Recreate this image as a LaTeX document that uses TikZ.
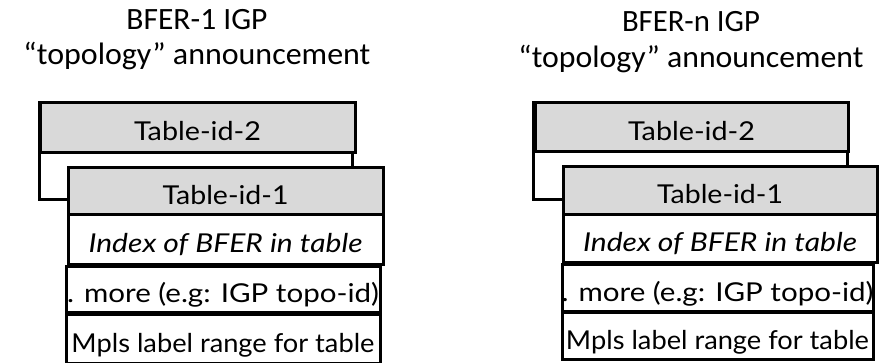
\documentclass[tikz,border=0pt]{standalone}
\usepackage{graphicx}
\usepackage{fontspec}
\setmainfont{Carlito}
\newfontfamily\boxfont{Lato}
\newcommand{\fitw}[2]{\makebox[0pt][c]{\resizebox{#1}{\height}{#2}}}
\tikzset{
  tbox/.style={draw=black, line width=3pt, rectangle, inner sep=0pt, fill=white,
    font=\boxfont\fontsize{26}{32}\selectfont, text height=28pt, text depth=2pt},
  gbox/.style={tbox, fill=black!15},
  ttla/.style={font=\fontsize{31}{36}\selectfont, anchor=base, inner sep=0pt},
  ttlb/.style={font=\fontsize{31}{38}\selectfont, anchor=base, inner sep=0pt}
}
\begin{document}
\begin{tikzpicture}[x=1pt,y=-1pt]
\useasboundingbox (0,0) rectangle (884,363);
% left titles
\node[ttla] (tl1) at (197,30) {\resizebox{141pt}{\height}{BFER-1 IGP}};
\node[ttlb] (tl2) at (197,65) {\resizebox{347pt}{\height}{“topology” announcement}};
% right titles
\node[ttla] (tr1) at (691,32) {\resizebox{138pt}{\height}{BFER-n IGP}};
\node[ttlb] (tr2) at (691,68) {\resizebox{345pt}{\height}{“topology” announcement}};
% left stack
\node[tbox, minimum width=313pt, minimum height=97pt] (backL) at (195.5,151.5) {};
\node[gbox, minimum width=315pt, minimum height=50pt] (t2L) at (197.5,128) {\fitw{127pt}{Table-id-2}};
\node[gbox, minimum width=315pt, minimum height=47pt] (t1L) at (225.5,191.5) {\fitw{126pt}{Table-id-1}};
\node[tbox, minimum width=315pt, minimum height=50pt] (idxL) at (225.5,240) {\fitw{274pt}{\itshape Index of BFER in table}};
\node[tbox, minimum width=314pt, minimum height=46pt] (moreL) at (223,290) {\fitw{312pt}{. more (e.g: IGP topo-id)}};
\node[tbox, minimum width=314pt, minimum height=49pt] (mplsL) at (223,339.5) {\fitw{303pt}{Mpls label range for table}};
% right stack
\node[tbox, minimum width=314pt, minimum height=97pt] (backR) at (690,151.5) {};
\node[gbox, minimum width=313pt, minimum height=49pt] (t2R) at (691.5,127.5) {\fitw{127pt}{Table-id-2}};
\node[gbox, minimum width=314pt, minimum height=48pt] (t1R) at (720,191) {\fitw{126pt}{Table-id-1}};
\node[tbox, minimum width=314pt, minimum height=48pt] (idxR) at (720,239) {\fitw{274pt}{\itshape Index of BFER in table}};
\node[tbox, minimum width=311pt, minimum height=47pt] (moreR) at (717.5,288.5) {\fitw{312pt}{. more (e.g: IGP topo-id)}};
\node[tbox, minimum width=311pt, minimum height=47pt] (mplsR) at (717.5,336.5) {\fitw{303pt}{Mpls label range for table}};
\end{tikzpicture}
\end{document}
